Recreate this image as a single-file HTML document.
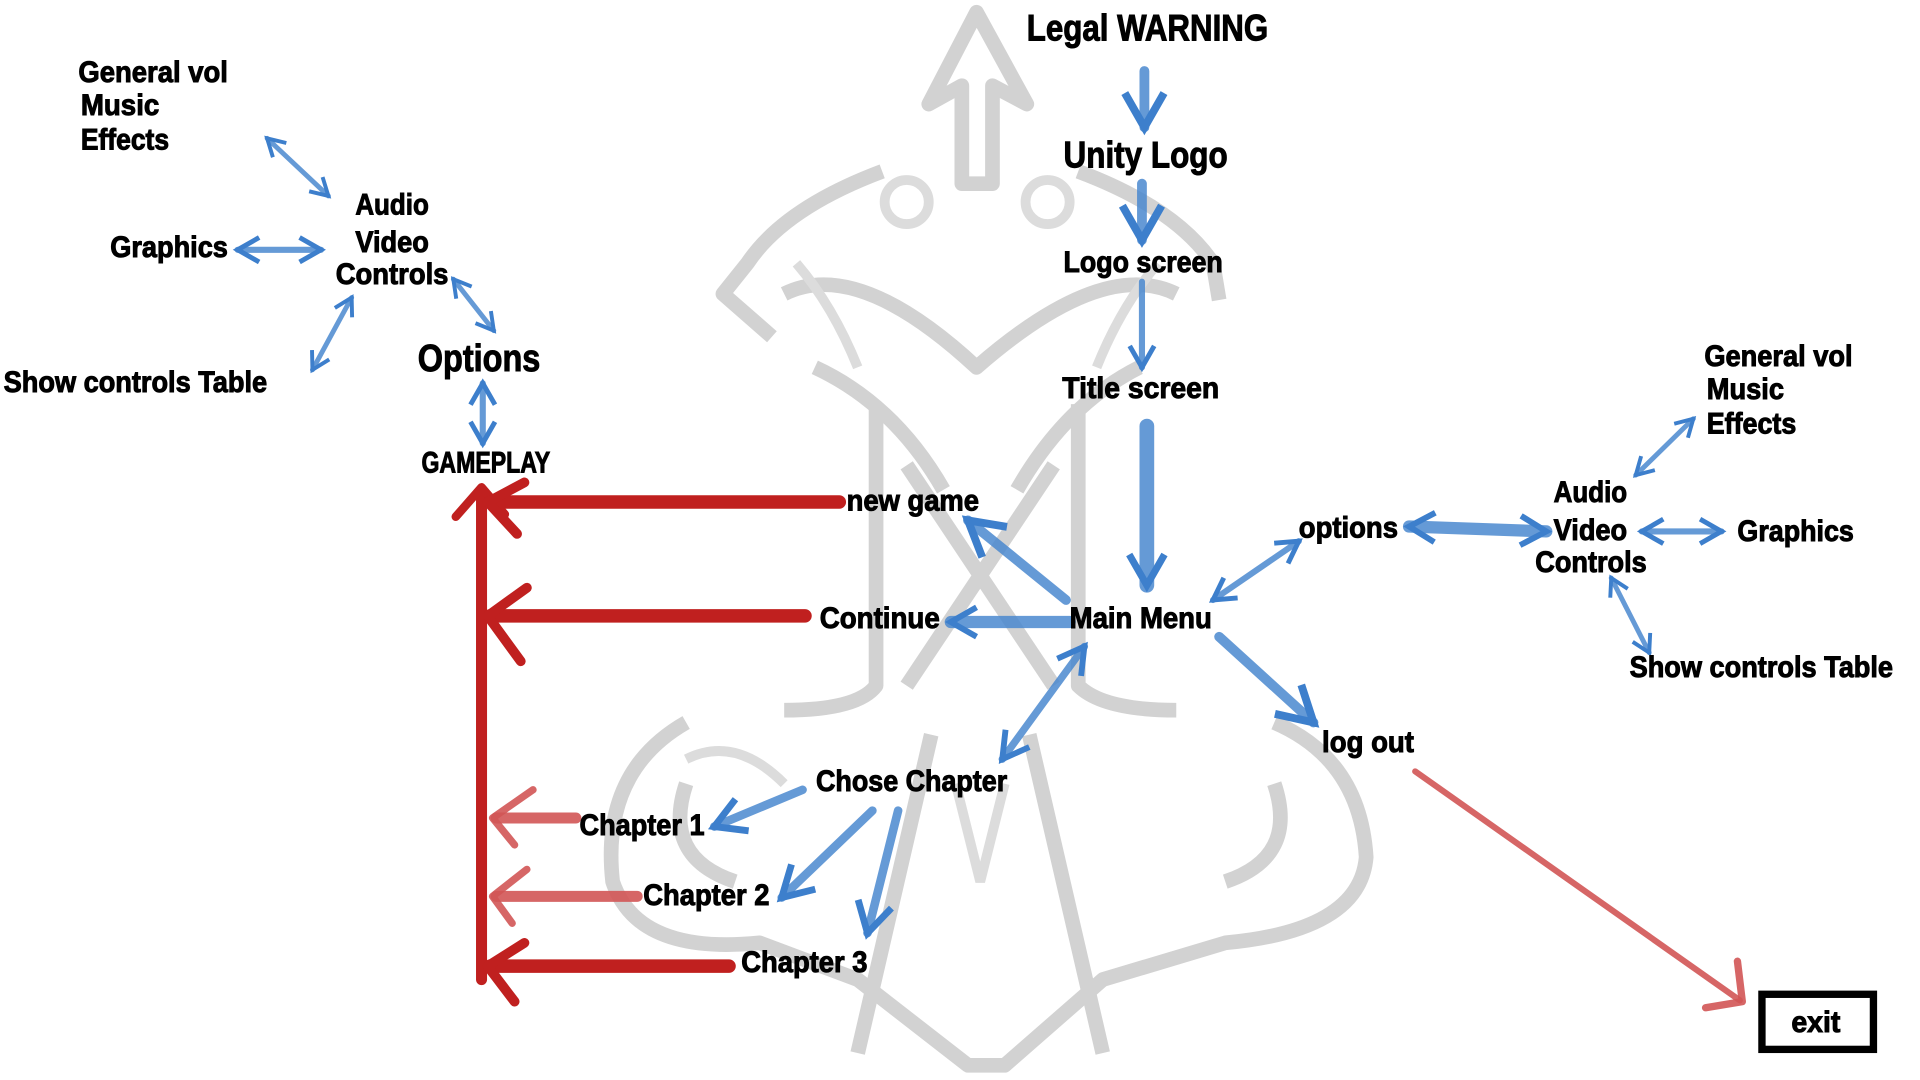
<!DOCTYPE html>
<html><head><meta charset="utf-8"><style>
html,body{margin:0;padding:0;background:#fff;width:1920px;height:1080px;overflow:hidden}
svg{display:block}
text{font-family:"Liberation Sans Narrow","Liberation Sans",sans-serif;font-weight:bold;fill:#000;stroke:#000;stroke-width:0.8}
</style></head><body>
<svg width="1920" height="1080" viewBox="0 0 1567 882" preserveAspectRatio="none" xmlns="http://www.w3.org/2000/svg">
<defs>
<marker id="b" viewBox="0 0 10 10" refX="8" refY="5" markerWidth="5" markerHeight="5" orient="auto-start-reverse" markerUnits="strokeWidth"><path d="M1,1 L8,5 L1,9" fill="none" stroke="#3d7fcc" stroke-width="1.6"/></marker>
<marker id="bt" viewBox="0 0 10 10" refX="8" refY="5" markerWidth="3" markerHeight="3" orient="auto-start-reverse" markerUnits="strokeWidth"><path d="M1,1 L8,5 L1,9" fill="none" stroke="#3d7fcc" stroke-width="1.6"/></marker>
</defs>
<!-- hammer background -->
<g fill="none" stroke="#d2d2d2" stroke-width="12" stroke-linejoin="round">
<path d="M797,10 L758,85 L785,70 L785,150 L810,150 L810,70 L838,85 Z"/>
<path d="M720,140 Q640,170 610,215 L590,240 L630,275 M880,140 Q960,170 990,215 L995,245"/>
<path d="M640,240 Q700,210 797,300 Q900,210 960,240"/>
<path d="M665,300 Q730,330 770,400 M930,300 Q870,330 830,400"/>
<path d="M715,330 L715,560 Q700,580 640,580 M880,330 L880,560 Q900,580 960,580"/>
<path d="M740,380 L860,560 M860,380 L740,560"/>
<path d="M560,590 Q490,630 500,720 Q520,780 620,770 L700,800 L790,870 L820,870 L900,800 L1000,770 Q1110,760 1115,700 Q1110,620 1040,590"/>
<path d="M760,600 L700,860 M840,600 L900,860"/>
<path d="M560,640 Q540,700 600,720 M1040,640 Q1060,700 1000,720"/>
</g>
<g fill="none" stroke="#dcdcdc" stroke-width="8">
<circle cx="740" cy="165" r="18"/><circle cx="855" cy="165" r="18"/>
<path d="M650,215 Q680,250 700,300 M945,215 Q915,250 895,300"/>
<path d="M780,640 L800,720 L820,640 M560,620 Q600,600 640,640"/>
</g>
<!-- blue arrows -->
<g stroke="#4a88cf" stroke-opacity="0.85" fill="none" stroke-linecap="round">
<line x1="934" y1="58" x2="934" y2="104" stroke-width="8" marker-end="url(#b)"/>
<line x1="932" y1="150" x2="932" y2="196" stroke-width="8" marker-end="url(#b)"/>
<line x1="932" y1="230" x2="932" y2="300" stroke-width="5" marker-end="url(#b)"/>
<line x1="936" y1="348" x2="936" y2="478" stroke-width="12" marker-end="url(#bt)"/>
<line x1="870" y1="490" x2="790" y2="425" stroke-width="8" marker-end="url(#b)"/>
<line x1="873" y1="508" x2="776" y2="508" stroke-width="10" marker-end="url(#bt)"/>
<line x1="885" y1="528" x2="818" y2="620" stroke-width="6" marker-start="url(#b)" marker-end="url(#b)"/>
<line x1="990" y1="490" x2="1060" y2="442" stroke-width="5" marker-start="url(#b)" marker-end="url(#b)"/>
<line x1="995" y1="520" x2="1072" y2="590" stroke-width="8" marker-end="url(#b)"/>
<line x1="1150" y1="430" x2="1262" y2="434" stroke-width="10" marker-start="url(#bt)" marker-end="url(#bt)"/>
<line x1="1340" y1="434" x2="1405" y2="434" stroke-width="5" marker-start="url(#b)" marker-end="url(#b)"/>
<line x1="1335" y1="388" x2="1382" y2="342" stroke-width="4" marker-start="url(#b)" marker-end="url(#b)"/>
<line x1="1315" y1="472" x2="1346" y2="533" stroke-width="4" marker-start="url(#b)" marker-end="url(#b)"/>
<line x1="655" y1="645" x2="583" y2="675" stroke-width="7" marker-end="url(#b)"/>
<line x1="712" y1="662" x2="638" y2="733" stroke-width="7" marker-end="url(#b)"/>
<line x1="733" y1="662" x2="708" y2="762" stroke-width="7" marker-end="url(#b)"/>
<line x1="218" y1="113" x2="268" y2="160" stroke-width="4" marker-start="url(#b)" marker-end="url(#b)"/>
<line x1="194" y1="204" x2="262" y2="204" stroke-width="5" marker-start="url(#b)" marker-end="url(#b)"/>
<line x1="287" y1="243" x2="255" y2="302" stroke-width="4" marker-start="url(#b)" marker-end="url(#b)"/>
<line x1="370" y1="228" x2="403" y2="270" stroke-width="4" marker-start="url(#b)" marker-end="url(#b)"/>
<line x1="394" y1="313" x2="394" y2="362" stroke-width="5" marker-start="url(#b)" marker-end="url(#b)"/>
</g>
<!-- red arrows -->
<g stroke="#c0201f" fill="none" stroke-linecap="round" stroke-linejoin="round">
<line x1="393" y1="400" x2="393" y2="800" stroke-width="9"/>
<polyline points="372,422 393,398 412,420" stroke-width="7"/>
<line x1="685" y1="410" x2="400" y2="410" stroke-width="11"/>
<polyline points="428,394 398,410 422,436" stroke-width="8"/>
<line x1="657" y1="503" x2="400" y2="503" stroke-width="11"/>
<polyline points="430,480 398,503 425,540" stroke-width="8"/>
<line x1="595" y1="789" x2="400" y2="789" stroke-width="11"/>
<polyline points="428,770 398,789 420,818" stroke-width="8"/>
<g stroke="#d25555" stroke-opacity="0.9">
<line x1="470" y1="668" x2="405" y2="668" stroke-width="9"/>
<polyline points="435,645 402,668 420,690" stroke-width="6"/>
<line x1="520" y1="732" x2="405" y2="732" stroke-width="9"/>
<polyline points="430,710 402,732 418,754" stroke-width="6"/>
<line x1="1155" y1="630" x2="1420" y2="817" stroke-width="5"/>
<polyline points="1392,823 1422,818 1418,785" stroke-width="6"/>
</g>
</g>
<rect x="1438" y="812" width="91" height="45" fill="#fff" stroke="#000" stroke-width="6"/>
<!-- labels -->
<g>
<text x="838" y="33" font-size="30" textLength="197" lengthAdjust="spacingAndGlyphs">Legal WARNING</text>
<text x="868" y="137" font-size="30" textLength="134" lengthAdjust="spacingAndGlyphs">Unity Logo</text>
<text x="868" y="222" font-size="24" textLength="130" lengthAdjust="spacingAndGlyphs">Logo screen</text>
<text x="867" y="325" font-size="24" textLength="128" lengthAdjust="spacingAndGlyphs">Title screen</text>
<text x="873" y="513" font-size="24" textLength="116" lengthAdjust="spacingAndGlyphs">Main Menu</text>
<text x="691" y="417" font-size="24" textLength="108" lengthAdjust="spacingAndGlyphs">new game</text>
<text x="669" y="513" font-size="24" textLength="98" lengthAdjust="spacingAndGlyphs">Continue</text>
<text x="1060" y="439" font-size="24" textLength="81" lengthAdjust="spacingAndGlyphs">options</text>
<text x="1268" y="410" font-size="24" textLength="60" lengthAdjust="spacingAndGlyphs">Audio</text>
<text x="1268" y="441" font-size="24" textLength="60" lengthAdjust="spacingAndGlyphs">Video</text>
<text x="1253" y="467" font-size="24" textLength="91" lengthAdjust="spacingAndGlyphs">Controls</text>
<text x="1418" y="442" font-size="24" textLength="95" lengthAdjust="spacingAndGlyphs">Graphics</text>
<text x="1391" y="299" font-size="24" textLength="121" lengthAdjust="spacingAndGlyphs">General vol</text>
<text x="1393" y="326" font-size="24" textLength="63" lengthAdjust="spacingAndGlyphs">Music</text>
<text x="1393" y="354" font-size="24" textLength="73" lengthAdjust="spacingAndGlyphs">Effects</text>
<text x="1330" y="553" font-size="24" textLength="215" lengthAdjust="spacingAndGlyphs">Show controls Table</text>
<text x="1079" y="614" font-size="24" textLength="75" lengthAdjust="spacingAndGlyphs">log out</text>
<text x="666" y="646" font-size="24" textLength="156" lengthAdjust="spacingAndGlyphs">Chose Chapter</text>
<text x="473" y="682" font-size="24" textLength="102" lengthAdjust="spacingAndGlyphs">Chapter 1</text>
<text x="525" y="739" font-size="24" textLength="103" lengthAdjust="spacingAndGlyphs">Chapter 2</text>
<text x="605" y="794" font-size="24" textLength="103" lengthAdjust="spacingAndGlyphs">Chapter 3</text>
<text x="1462" y="843" font-size="24" textLength="40" lengthAdjust="spacingAndGlyphs">exit</text>
<text x="64" y="67" font-size="24" textLength="122" lengthAdjust="spacingAndGlyphs">General vol</text>
<text x="66" y="94" font-size="24" textLength="64" lengthAdjust="spacingAndGlyphs">Music</text>
<text x="66" y="122" font-size="24" textLength="72" lengthAdjust="spacingAndGlyphs">Effects</text>
<text x="290" y="175" font-size="24" textLength="60" lengthAdjust="spacingAndGlyphs">Audio</text>
<text x="290" y="206" font-size="24" textLength="60" lengthAdjust="spacingAndGlyphs">Video</text>
<text x="274" y="232" font-size="24" textLength="92" lengthAdjust="spacingAndGlyphs">Controls</text>
<text x="90" y="210" font-size="24" textLength="96" lengthAdjust="spacingAndGlyphs">Graphics</text>
<text x="3" y="320" font-size="24" textLength="215" lengthAdjust="spacingAndGlyphs">Show controls Table</text>
<text x="341" y="303" font-size="31" textLength="100" lengthAdjust="spacingAndGlyphs">Options</text>
<text x="344" y="386" font-size="24" textLength="105" lengthAdjust="spacingAndGlyphs">GAMEPLAY</text>
</g>
</svg>
</body></html>
